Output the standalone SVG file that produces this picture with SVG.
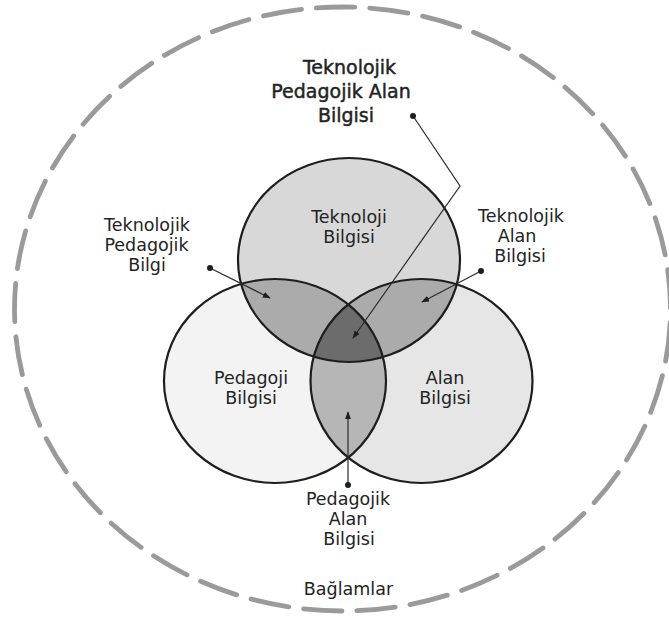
<svg xmlns="http://www.w3.org/2000/svg" width="669" height="622" viewBox="0 0 669 622">
<style>
  text { font-family: "DejaVu Sans", Verdana, sans-serif; fill: #232323; text-anchor: middle; }
  .lbl { font-size: 17.5px; }
  .big { font-size: 19px; stroke: #232323; stroke-width: 0.45px; }
  .ring { fill: none; stroke: #1e1e1e; stroke-width: 2.2; }
  .lead { fill: none; stroke: #2a2a2a; stroke-width: 1.2; }
  .dot { fill: #1e1e1e; }
</style>
<defs>
  <clipPath id="cT"><ellipse cx="349" cy="260" rx="111" ry="102"/></clipPath>
  <clipPath id="cL"><ellipse cx="275" cy="381" rx="111" ry="102"/></clipPath>
  <clipPath id="cR"><ellipse cx="421.5" cy="381" rx="111" ry="102"/></clipPath>
  <marker id="ah" viewBox="0 0 10 10" refX="9" refY="5" markerWidth="8" markerHeight="6" markerUnits="userSpaceOnUse" orient="auto" preserveAspectRatio="none">
    <path d="M0,0 L10,5 L0,10 z" fill="#1e1e1e"/>
  </marker>
</defs>
<rect width="669" height="622" fill="#ffffff"/>

<g id="context">
  <ellipse cx="342.5" cy="309" rx="328" ry="302" fill="none" stroke="#9a9a9a" stroke-width="4.8" stroke-linecap="round" pathLength="3700" stroke-dasharray="72 28" stroke-dashoffset="74"/>
  <text class="lbl" x="348.5" y="595">Bağlamlar</text>
</g>

<g id="fills">
  <ellipse cx="275" cy="381" rx="111" ry="102" fill="#f3f3f3"/>
  <ellipse cx="421.5" cy="381" rx="111" ry="102" fill="#e6e6e6"/>
  <ellipse cx="349" cy="260" rx="111" ry="102" fill="#d8d8d8"/>
  <ellipse cx="349" cy="260" rx="111" ry="102" fill="#ababab" clip-path="url(#cL)"/>
  <ellipse cx="349" cy="260" rx="111" ry="102" fill="#ababab" clip-path="url(#cR)"/>
  <ellipse cx="275" cy="381" rx="111" ry="102" fill="#b6b6b6" clip-path="url(#cR)"/>
  <g clip-path="url(#cL)">
    <ellipse cx="349" cy="260" rx="111" ry="102" fill="#6c6c6c" clip-path="url(#cR)"/>
  </g>
</g>

<g id="teknoloji-bilgisi">
  <ellipse class="ring" cx="349" cy="260" rx="111" ry="102"/>
  <text class="lbl" x="349" y="223">Teknoloji</text>
  <text class="lbl" x="349" y="243">Bilgisi</text>
</g>

<g id="pedagoji-bilgisi">
  <ellipse class="ring" cx="275" cy="381" rx="111" ry="102"/>
  <text class="lbl" x="251" y="384">Pedagoji</text>
  <text class="lbl" x="251" y="404">Bilgisi</text>
</g>

<g id="alan-bilgisi">
  <ellipse class="ring" cx="421.5" cy="381" rx="111" ry="102"/>
  <text class="lbl" x="445" y="384">Alan</text>
  <text class="lbl" x="445" y="404">Bilgisi</text>
</g>

<g id="tpab-label">
  <text class="big" x="349.5" y="74">Teknolojik</text>
  <text class="big" x="341" y="98">Pedagojik Alan</text>
  <text class="big" x="346" y="122">Bilgisi</text>
</g>

<g id="tpb-label">
  <text class="lbl" x="147" y="231">Teknolojik</text>
  <text class="lbl" x="146.5" y="251">Pedagojik</text>
  <text class="lbl" x="147" y="271">Bilgi</text>
</g>

<g id="tab-label">
  <text class="lbl" x="521" y="222">Teknolojik</text>
  <text class="lbl" x="517" y="242">Alan</text>
  <text class="lbl" x="520" y="262">Bilgisi</text>
</g>

<g id="pab-label">
  <text class="lbl" x="348" y="505">Pedagojik</text>
  <text class="lbl" x="348" y="525">Alan</text>
  <text class="lbl" x="349" y="545">Bilgisi</text>
</g>

<g id="connectors">
  <polyline class="lead" points="413,116 460,186 353,338" marker-end="url(#ah)"/>
  <circle class="dot" cx="413" cy="116" r="3"/>
  <line class="lead" x1="210" y1="268" x2="270" y2="298" marker-end="url(#ah)"/>
  <circle class="dot" cx="210" cy="268" r="3"/>
  <line class="lead" x1="481" y1="271" x2="422" y2="302" marker-end="url(#ah)"/>
  <circle class="dot" cx="481" cy="271" r="3"/>
  <line class="lead" x1="348" y1="485" x2="348" y2="412" marker-end="url(#ah)"/>
  <circle class="dot" cx="348" cy="485" r="3"/>
</g>
</svg>
